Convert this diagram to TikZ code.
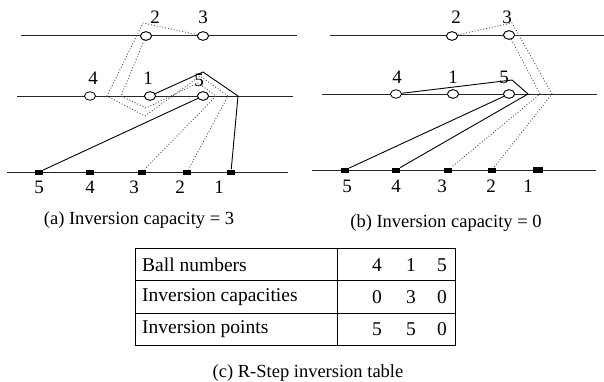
\documentclass[tikz,border=0pt]{standalone}
\usepackage{fontspec}
\setmainfont{Liberation Serif}
\usetikzlibrary{shapes.geometric}
\begin{document}
\begin{tikzpicture}[x=1pt,y=-1pt,
  ball/.style={draw,ellipse,fill=white,minimum width=11pt,minimum height=8.5pt,inner sep=0pt,line width=0.8pt},
  blk/.style={fill=black,rectangle,minimum width=8pt,minimum height=5pt,inner sep=0pt},
  blkbig/.style={fill=black,rectangle,minimum width=10pt,minimum height=6.5pt,inner sep=0pt},
  lvl/.style={line width=0.8pt,black!85},
  sol/.style={line width=0.9pt},
  dot/.style={line width=0.9pt,black!70,dotted},
  lab/.style={font=\fontsize{19}{22}\selectfont,inner sep=0pt},
  captext/.style={font=\fontsize{18.5}{22}\selectfont,inner sep=0pt},
  tab/.style={font=\fontsize{19.5}{22}\selectfont,inner sep=0pt}]
\useasboundingbox (0,0) rectangle (604,382);
% ---------- panel (a)
\coordinate (aT1) at (21,35); \coordinate (aT2) at (297,35);
\coordinate (aM1) at (17,96); \coordinate (aM2) at (293,96);
\coordinate (aB1) at (7,172); \coordinate (aB2) at (288,172);
\draw[lvl] (aT1) -- (aT2);
\draw[lvl] (aM1) -- (aM2);
\draw[lvl] (aB1) -- (aB2);
\node[blk] (as5) at (39,172) {};
\node[blk] (as4) at (90,172) {};
\node[blk] (as3) at (142,172) {};
\node[blk] (as2) at (187,172) {};
\node[blk] (as1) at (231,172) {};
\coordinate (aapex) at (203,72);
\coordinate (aknee) at (238,96);
\coordinate (ap3a) at (143,23);
\coordinate (ap3b) at (107,96);
\coordinate (ap3c) at (145,116);
\coordinate (ap3d) at (200,76);
\coordinate (ap3e) at (228,96);
\coordinate (ap2b) at (121,96);
\coordinate (ap2c) at (146,108);
\coordinate (ap2d) at (198,83);
\coordinate (ap2e) at (216,96);
\node[ball] (a2) at (146,36) {};
\node[ball] (a3) at (203,36) {};
\node[ball] (a4) at (90,96) {};
\node[ball] (a1) at (150,96) {};
\node[ball] (a5) at (203,96) {};
\draw[dot] (a3) -- (ap3a) -- (ap3b) -- (ap3c) -- (ap3d) -- (ap3e) -- (as2);
\draw[dot] (a2) -- (ap2b) -- (ap2c) -- (ap2d) -- (ap2e) -- (as3);
\draw[sol] (a1) -- (aapex) -- (aknee) -- (as1);
\draw[sol] (a5) -- (as5);
\node[ball] at (a2) {};
\node[ball] at (a3) {};
\node[ball] at (a1) {};
\node[ball] at (a5) {};
\node[lab] (la2) at (155,17) {2};
\node[lab] (la3) at (203,17) {3};
\node[lab] (la4) at (93,78) {4};
\node[lab] (la1) at (148,78) {1};
\node[lab] (la5) at (199,80) {5};
\node[lab] (lq5) at (39,187) {5};
\node[lab] (lq4) at (90,187) {4};
\node[lab] (lq3) at (134,187) {3};
\node[lab] (lq2) at (180,187) {2};
\node[lab] (lq1) at (219,187) {1};
\node[captext] (capa) at (139,220) {(a) Inversion capacity = 3};
% ---------- panel (b)
\coordinate (bT1) at (330,35); \coordinate (bT2) at (604,35);
\coordinate (bM1) at (322,94); \coordinate (bM2) at (597,94);
\coordinate (bB1) at (312,170); \coordinate (bB2) at (596,170);
\draw[lvl] (bT1) -- (bT2);
\draw[lvl] (bM1) -- (bM2);
\draw[lvl] (bB1) -- (bB2);
\node[blk] (bs5) at (345,170) {};
\node[blk] (bs4) at (396,170) {};
\node[blk] (bs3) at (448,170) {};
\node[blk] (bs2) at (492,170) {};
\node[blkbig] (bs1) at (538,170) {};
\coordinate (bapex) at (512,80);
\coordinate (bknee) at (528,94);
\coordinate (bp2a) at (512,23);
\coordinate (bp2b) at (552,94);
\coordinate (bp3b) at (540,94);
\node[ball] (b2) at (452,36) {};
\node[ball] (b3) at (509,35) {};
\node[ball] (b4) at (396,94) {};
\node[ball] (b1) at (453,94) {};
\node[ball] (b5) at (509,94) {};
\draw[dot] (b2) -- (bp2a) -- (bp2b) -- (bs2);
\draw[dot] (b3) -- (bp3b) -- (bs3);
\draw[sol] (b4) -- (bapex) -- (bknee) -- (bs4);
\draw[sol] (b5) -- (bs5);
\node[ball] at (b2) {};
\node[ball] at (b3) {};
\node[ball] at (b1) {};
\node[ball] at (b5) {};
\node[lab] (lb2) at (456,17) {2};
\node[lab] (lb3) at (507,17) {3};
\node[lab] (lb4) at (397,77) {4};
\node[lab] (lb1) at (453,77) {1};
\node[lab] (lb5) at (504,77) {5};
\node[lab] (lr5) at (347,186) {5};
\node[lab] (lr4) at (396,186) {4};
\node[lab] (lr3) at (442,186) {3};
\node[lab] (lr2) at (491,186) {2};
\node[lab] (lr1) at (528,186) {1};
\node[captext] (capb) at (446,223) {(b) Inversion capacity = 0};
% ---------- table (c)
\draw[line width=0.8pt] (135,248) rectangle (455,345);
\draw[line width=0.8pt] (337,248) -- (337,345);
\draw[line width=0.8pt] (135,280) -- (455,280);
\draw[line width=0.8pt] (135,313) -- (455,313);
\node[tab,anchor=west] (t1) at (142,265) {Ball numbers};
\node[tab,anchor=west] (t2) at (142,297) {Inversion capacities};
\node[tab,anchor=west] (t3) at (142,329) {Inversion points};
\node[tab] (c11) at (377,265) {4};
\node[tab] (c12) at (411,265) {1};
\node[tab] (c13) at (442,265) {5};
\node[tab] (c21) at (377,297) {0};
\node[tab] (c22) at (411,297) {3};
\node[tab] (c23) at (442,297) {0};
\node[tab] (c31) at (377,329) {5};
\node[tab] (c32) at (411,329) {5};
\node[tab] (c33) at (442,329) {0};
\node[captext] (capc) at (308,373) {(c) R-Step inversion table};
\end{tikzpicture}
\end{document}
